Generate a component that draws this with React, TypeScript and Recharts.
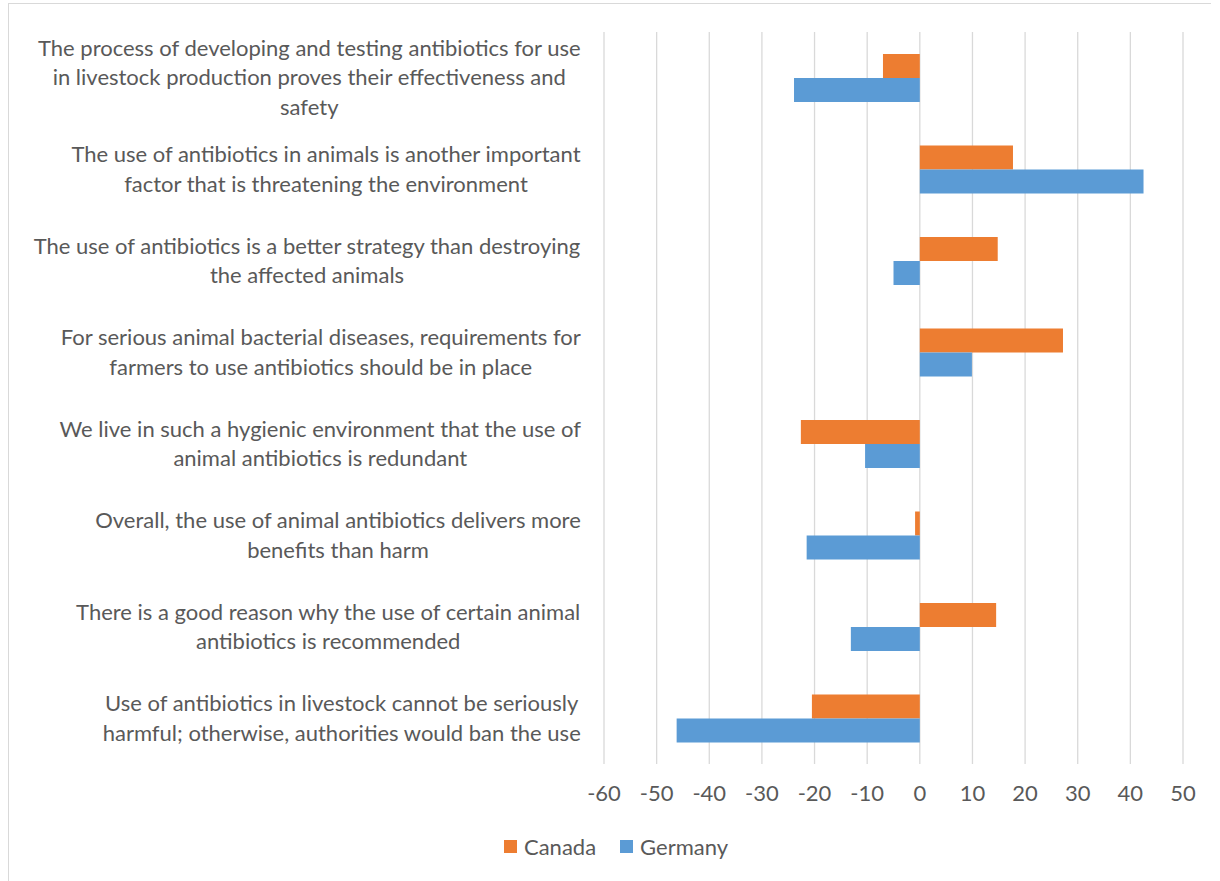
import React from 'react';
import { BarChart, Bar, CartesianGrid, XAxis, YAxis, Legend } from 'recharts';

const categories = [
    "The process of developing and testing antibiotics for use\nin livestock production proves their effectiveness and\nsafety",
    "The use of antibiotics in animals is another important\nfactor that is threatening the environment",
    "The use of antibiotics is a better strategy than destroying\nthe affected animals",
    "For serious animal bacterial diseases, requirements for\nfarmers to use antibiotics should be in place",
    "We live in such a hygienic environment that the use of\nanimal antibiotics is redundant",
    "Overall, the use of animal antibiotics delivers more\nbenefits than harm",
    "There is a good reason why the use of certain animal\nantibiotics is recommended",
    "Use of antibiotics in livestock cannot be seriously\nharmful; otherwise, authorities would ban the use"
];
const canada = [-7, 17.7, 14.8, 27.2, -22.6, -0.9, 14.5, -20.5];
const germany = [-23.9, 42.5, -5, 9.9, -10.4, -21.5, -13.1, -46.2];
const xTicks = [-60, -50, -40, -30, -20, -10, 0, 10, 20, 30, 40, 50];

const data = categories.map((c, i) => ({ name: c, Canada: canada[i], Germany: germany[i] }));

const FONT = 'Lato, "Open Sans", sans-serif';
const TEXT = '#595959';
const SIZE = 22;

let ctx: CanvasRenderingContext2D | null = null;
function measure(s: string, size: number) {
    if (!ctx) ctx = document.createElement('canvas').getContext('2d');
    if (!ctx) return s.length * size * 0.5;
    ctx.font = size + 'px ' + FONT;
    return ctx.measureText(s).width;
}

const CategoryTick = (props: any) => {
    const { x, y, payload } = props;
    const lines: string[] = String(payload.value).split('\n');
    const lh = 29.3;
    const w = Math.max(...lines.map(l => measure(l, SIZE)));
    const cx = x - w / 2;
    const y0 = y - ((lines.length - 1) * lh) / 2;
    return (
        <text x={cx} y={y0} textAnchor="middle" fill={TEXT} fontSize={SIZE} fontFamily={FONT}>
            {lines.map((l, i) => (
                <tspan key={i} x={cx} y={y0 + i * lh} dy="0.35em">{l}</tspan>
            ))}
        </text>
    );
};

const LegendContent = () => (
    <div style={{ display: 'flex', justifyContent: 'center', paddingLeft: 12, fontFamily: FONT, fontSize: SIZE, color: TEXT }}>
        {[['Canada', '#ED7D31'], ['Germany', '#5B9BD5']].map(([n, c]) => (
            <div key={n} style={{ display: 'flex', alignItems: 'center', margin: '0 12px' }}>
                <span style={{ width: 13, height: 13, background: c, display: 'inline-block', marginRight: 7 }} />
                <span>{n}</span>
            </div>
        ))}
    </div>
);

export default function App() {
    return (
        <div style={{ position: 'absolute', left: 0, top: 0, width: 1220, height: 881, background: '#fff', overflow: 'hidden' }}>
            <div style={{ position: 'absolute', left: 8, top: 3, width: 1202, height: 900, borderLeft: '1.5px solid #d9d9d9', borderTop: '1.5px solid #d9d9d9' }} />
            <BarChart width={1220} height={881} data={data} layout="vertical"
                margin={{ top: 32, right: 37, left: 0, bottom: 77 }} barGap={0} barSize={24}>
                <CartesianGrid stroke="#d9d9d9" strokeWidth={1.3} horizontal={false} />
                <XAxis type="number" domain={[-60, 50]} ticks={xTicks} axisLine={false} tickLine={false}
                    tickSize={0} tickMargin={21} height={40} interval={0}
                    tick={{ fill: TEXT, fontSize: SIZE, fontFamily: FONT }} />
                <YAxis type="category" dataKey="name" width={604} axisLine={false} tickLine={false}
                    tickSize={0} tickMargin={23} interval={0} tick={<CategoryTick />} />
                <Legend layout="horizontal" verticalAlign="middle" align="center" content={<LegendContent />}
                    wrapperStyle={{ top: 833, left: 0, width: 1220 }} />
                <Bar dataKey="Canada" fill="#ED7D31" isAnimationActive={false} />
                <Bar dataKey="Germany" fill="#5B9BD5" isAnimationActive={false} />
            </BarChart>
        </div>
    );
}
